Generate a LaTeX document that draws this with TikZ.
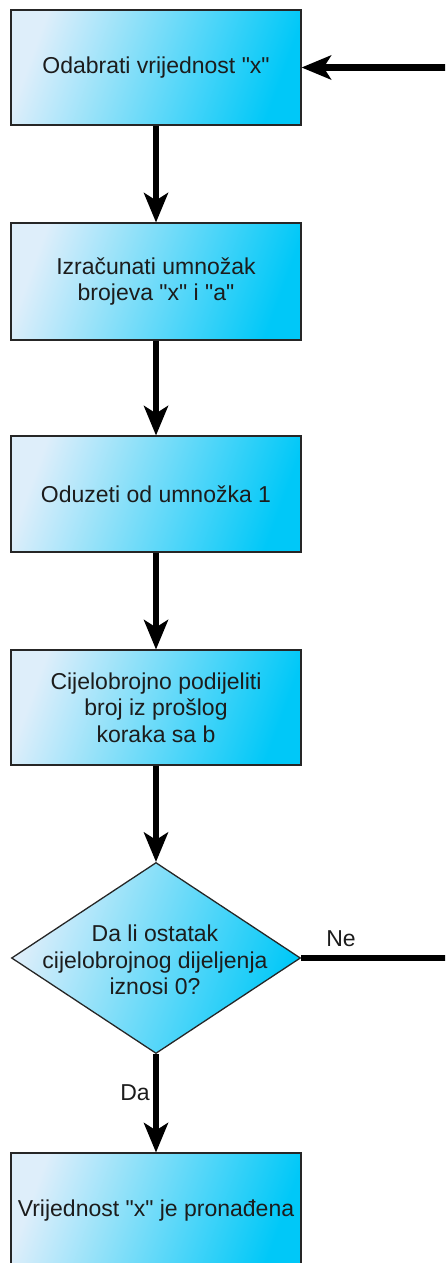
\documentclass[tikz,border=0pt]{standalone}
\usepackage{fontspec}
\setmainfont{Liberation Sans}[Ligatures=TeXOff]
\usetikzlibrary{shapes.geometric,arrows.meta}
\definecolor{gradA}{RGB}{222,238,250}
\definecolor{gradB}{RGB}{0,200,248}
\definecolor{txtc}{RGB}{28,28,28}
\tikzset{
  procbox/.style={rectangle, draw=black!85, line width=1.3pt,
    left color=gradA, right color=gradB, shading angle=70,
    minimum width=290pt, inner sep=2pt, align=center,
    font=\fontsize{23}{26.5}\selectfont, text=txtc},
  decbox/.style={diamond, draw=black!85, line width=1.3pt,
    left color=gradA, right color=gradB, shading angle=70,
    minimum width=289pt, minimum height=191pt, inner sep=0pt},
  lbl/.style={align=center, font=\fontsize{23}{26.5}\selectfont, text=txtc, inner sep=0pt},
  flow/.style={line width=6.5pt, draw=black,
    -{Stealth[length=30pt,width=25pt,inset=8pt,line width=0pt]}},
}
\begin{document}
\begin{tikzpicture}[x=1pt,y=-1pt]
\useasboundingbox (0,0) rectangle (445,1263);
\clip (0,0) rectangle (445,1263);
\node[procbox, minimum height=115pt] (b1) at (156,67.5) {Odabrati vrijednost "x"};
\node[procbox, minimum height=117pt] (b2) at (156,281.5) {Izračunati umnožak\\brojeva "x" i "a"};
\node[procbox, minimum height=116pt] (b3) at (156,494) {Oduzeti od umnožka 1};
\node[procbox, minimum height=115pt] (b4) at (156,707.5) {Cijelobrojno podijeliti\\broj iz prošlog\\koraka sa b};
\node[decbox] (d) at (156,958) {};
\node[lbl] (dt) at (155,960) {Da li ostatak\\cijelobrojnog dijeljenja\\iznosi 0?};
\node[procbox, minimum height=115pt] (b5) at (156,1210.5) {Vrijednost "x" je pronađena};
\coordinate (rr) at (462,0);
\draw[flow] (b1.south) -- (b2.north);
\draw[flow] (b2.south) -- (b3.north);
\draw[flow] (b3.south) -- (b4.north);
\draw[flow] (b4.south) -- (d.north);
\draw[flow] (d.south) -- (b5.north);
\draw[flow] (d.east) -- (d.east -| rr) -- (b1.east -| rr) -- (b1.east);
\node[lbl] (ne) at (341,939) {Ne};
\node[lbl] (da) at (135,1093) {Da};
\end{tikzpicture}
\end{document}
